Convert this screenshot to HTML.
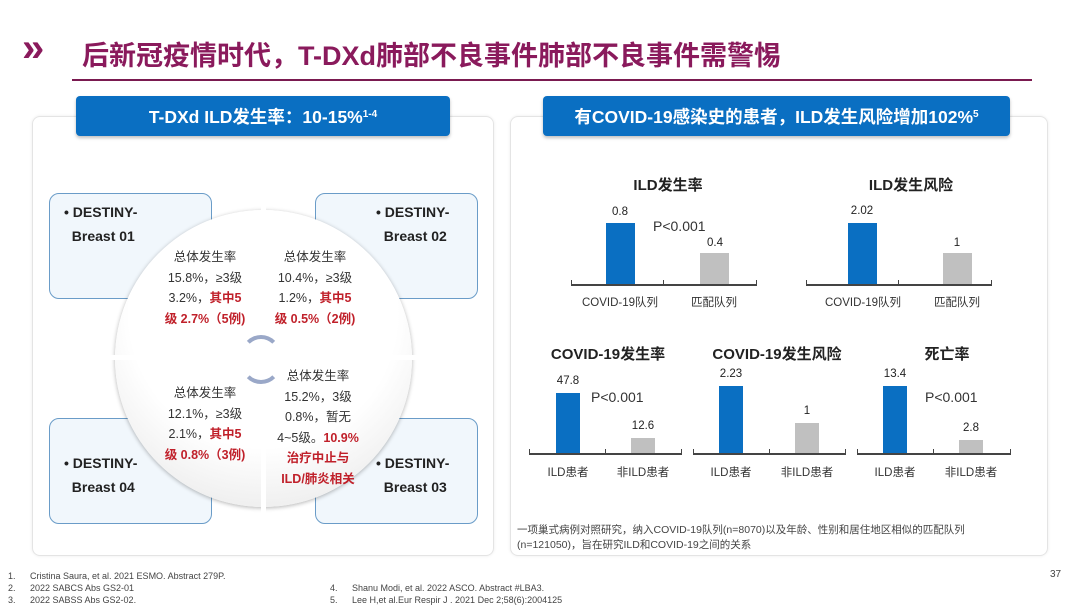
<!DOCTYPE html>
<html><head><meta charset="utf-8"><style>
*{margin:0;padding:0;box-sizing:border-box}
body{width:1080px;height:608px;background:#fff;position:relative;overflow:hidden;font-family:"Liberation Sans","Noto Sans CJK SC",sans-serif;color:#222}
.a{position:absolute}
.hdr{background:#0a6fc2;color:#fff;font-weight:bold;font-size:17.5px;text-align:center;line-height:38px;border-radius:4px;box-shadow:0 2px 3px rgba(0,0,0,.25)}
.hdr sup{font-size:10px;vertical-align:6px}
.panel{border:1px solid #e4e4e4;border-radius:8px;box-shadow:0 0 3px rgba(0,0,0,.08)}
.qb{border:1px solid #6a9cc8;border-radius:10px;background:#f1f7fc;font-weight:bold;font-size:14px;line-height:24px;color:#222}
.ct{font-size:12.5px;line-height:20.5px;text-align:center;color:#333}
.r{color:#c0202a;font-weight:bold}
.bl{background:#0a6fc2}.gr{background:#c0c0c0}
.ax{height:1.5px;background:#444}
.tk{width:1px;height:5px;background:#444}
.v{font-size:11.5px;text-align:center;width:60px;color:#222}
.lb{font-size:11.5px;text-align:center;width:110px;color:#333}
.tt{font-size:15px;font-weight:bold;text-align:center;width:200px}
.p{font-size:14px;color:#333}
.fn{font-size:9px;color:#444}
</style></head><body>
<div class="a" style="left:22px;top:28px;font-size:40px;line-height:40px;font-weight:bold;color:#8a1a5c">»</div>
<div class="a" style="left:82px;top:34px;font-size:27px;font-weight:bold;color:#8a1a5c;white-space:nowrap">后新冠疫情时代，T-DXd肺部不良事件肺部不良事件需警惕</div>
<div class="a" style="left:72px;top:79px;width:960px;height:2px;background:#7a1a50"></div>

<div class="a panel" style="left:32px;top:116px;width:462px;height:440px"></div>
<div class="a panel" style="left:510px;top:116px;width:538px;height:440px"></div>
<div class="a hdr" style="left:76px;top:96px;width:374px">T-DXd ILD发生率：10-15%<sup>1-4</sup></div>
<div class="a hdr" style="left:543px;top:96px;width:467px">有COVID-19感染史的患者，ILD发生风险增加102%<sup>5</sup></div>

<div class="a qb" style="left:49px;top:193px;width:163px;height:106px;padding:6px 0 0 14px">• DESTINY-<br>&nbsp;&nbsp;Breast 01</div>
<div class="a qb" style="left:315px;top:193px;width:163px;height:106px;padding:6px 0 0 60px">• DESTINY-<br>&nbsp;&nbsp;Breast 02</div>
<div class="a qb" style="left:49px;top:418px;width:163px;height:106px;padding:32px 0 0 14px">• DESTINY-<br>&nbsp;&nbsp;Breast 04</div>
<div class="a qb" style="left:315px;top:418px;width:163px;height:106px;padding:32px 0 0 60px">• DESTINY-<br>&nbsp;&nbsp;Breast 03</div>

<div class="a" style="left:115px;top:210px;width:297px;height:297px;border-radius:50%;background:radial-gradient(circle at 50% 35%,#fff 55%,#e2e2e2 100%);box-shadow:0 1px 4px rgba(0,0,0,.3)"></div>
<div class="a" style="left:261px;top:205px;width:5px;height:310px;background:#fff"></div>
<div class="a" style="left:110px;top:355px;width:310px;height:5px;background:#fff"></div>
<div class="a" style="left:241px;top:335px;width:40px;height:40px;border-radius:50%;border:4px solid #9aa8c8;border-bottom-color:transparent;border-left-color:transparent;border-right-color:transparent"></div>
<div class="a" style="left:241px;top:344px;width:40px;height:40px;border-radius:50%;border:4px solid #9aa8c8;border-top-color:transparent;border-left-color:transparent;border-right-color:transparent"></div>

<div class="a ct" style="left:150px;top:247px;width:110px">总体发生率<br>15.8%，≥3级<br>3.2%，<span class="r">其中5</span><br><span class="r">级 2.7%（5例)</span></div>
<div class="a ct" style="left:260px;top:247px;width:110px">总体发生率<br>10.4%，≥3级<br>1.2%，<span class="r">其中5</span><br><span class="r">级 0.5%（2例)</span></div>
<div class="a ct" style="left:150px;top:383px;width:110px">总体发生率<br>12.1%，≥3级<br>2.1%，<span class="r">其中5</span><br><span class="r">级 0.8%（3例)</span></div>
<div class="a ct" style="left:268px;top:366px;width:100px">总体发生率<br>15.2%，3级<br>0.8%，暂无<br>4~5级。<span class="r">10.9%</span><br><span class="r">治疗中止与</span><br><span class="r">ILD/肺炎相关</span></div>

<div class="a tt" style="left:568px;top:174px">ILD发生率</div>
<div class="a tt" style="left:811px;top:174px">ILD发生风险</div>
<div class="a v" style="left:590px;top:206px">0.8</div><div class="a bl" style="left:606px;top:223px;width:29px;height:62px"></div>
<div class="a v" style="left:685px;top:237px">0.4</div><div class="a gr" style="left:700px;top:253px;width:29px;height:32px"></div>
<div class="a p" style="left:653px;top:218px">P&lt;0.001</div>
<div class="a ax" style="left:571px;top:284px;width:186px"></div>
<div class="a tk" style="left:571px;top:280px"></div><div class="a tk" style="left:663px;top:280px"></div><div class="a tk" style="left:756px;top:280px"></div>
<div class="a lb" style="left:565px;top:294px">COVID-19队列</div><div class="a lb" style="left:659px;top:294px">匹配队列</div>

<div class="a v" style="left:832px;top:205px">2.02</div><div class="a bl" style="left:848px;top:223px;width:29px;height:62px"></div>
<div class="a v" style="left:927px;top:237px">1</div><div class="a gr" style="left:943px;top:253px;width:29px;height:32px"></div>
<div class="a ax" style="left:806px;top:284px;width:186px"></div>
<div class="a tk" style="left:806px;top:280px"></div><div class="a tk" style="left:898px;top:280px"></div><div class="a tk" style="left:991px;top:280px"></div>
<div class="a lb" style="left:808px;top:294px">COVID-19队列</div><div class="a lb" style="left:902px;top:294px">匹配队列</div>

<div class="a tt" style="left:508px;top:343px">COVID-19发生率</div>
<div class="a tt" style="left:677px;top:343px">COVID-19发生风险</div>
<div class="a tt" style="left:847px;top:343px">死亡率</div>

<div class="a v" style="left:538px;top:375px">47.8</div><div class="a bl" style="left:556px;top:393px;width:24px;height:61px"></div>
<div class="a v" style="left:613px;top:420px">12.6</div><div class="a gr" style="left:631px;top:438px;width:24px;height:16px"></div>
<div class="a p" style="left:591px;top:389px">P&lt;0.001</div>
<div class="a ax" style="left:529px;top:453px;width:153px"></div>
<div class="a tk" style="left:529px;top:449px"></div><div class="a tk" style="left:605px;top:449px"></div><div class="a tk" style="left:681px;top:449px"></div>
<div class="a lb" style="left:513px;top:464px">ILD患者</div><div class="a lb" style="left:588px;top:464px">非ILD患者</div>

<div class="a v" style="left:701px;top:368px">2.23</div><div class="a bl" style="left:719px;top:386px;width:24px;height:68px"></div>
<div class="a v" style="left:777px;top:405px">1</div><div class="a gr" style="left:795px;top:423px;width:24px;height:31px"></div>
<div class="a ax" style="left:693px;top:453px;width:153px"></div>
<div class="a tk" style="left:693px;top:449px"></div><div class="a tk" style="left:769px;top:449px"></div><div class="a tk" style="left:845px;top:449px"></div>
<div class="a lb" style="left:676px;top:464px">ILD患者</div><div class="a lb" style="left:752px;top:464px">非ILD患者</div>

<div class="a v" style="left:865px;top:368px">13.4</div><div class="a bl" style="left:883px;top:386px;width:24px;height:68px"></div>
<div class="a v" style="left:941px;top:422px">2.8</div><div class="a gr" style="left:959px;top:440px;width:24px;height:14px"></div>
<div class="a p" style="left:925px;top:389px">P&lt;0.001</div>
<div class="a ax" style="left:857px;top:453px;width:154px"></div>
<div class="a tk" style="left:857px;top:449px"></div><div class="a tk" style="left:933px;top:449px"></div><div class="a tk" style="left:1010px;top:449px"></div>
<div class="a lb" style="left:840px;top:464px">ILD患者</div><div class="a lb" style="left:916px;top:464px">非ILD患者</div>

<div class="a" style="left:517px;top:523px;font-size:10.5px;line-height:15px;color:#444">一项巢式病例对照研究，纳入COVID-19队列(n=8070)以及年龄、性别和居住地区相似的匹配队列<br>(n=121050)，旨在研究ILD和COVID-19之间的关系</div>

<div class="a fn" style="left:8px;top:570px;line-height:12px">1.<br>2.<br>3.</div>
<div class="a fn" style="left:30px;top:570px;line-height:12px">Cristina Saura, et al.  2021 ESMO. Abstract 279P.<br>2022 SABCS Abs GS2-01<br>2022 SABSS Abs GS2-02.</div>
<div class="a fn" style="left:330px;top:582px;line-height:12px">4.<br>5.</div>
<div class="a fn" style="left:352px;top:582px;line-height:12px">Shanu Modi, et al. 2022 ASCO. Abstract #LBA3.<br>Lee H,et al.Eur Respir J . 2021 Dec 2;58(6):2004125</div>
<div class="a" style="left:1050px;top:569px;font-size:10px;color:#444">37</div>
</body></html>
